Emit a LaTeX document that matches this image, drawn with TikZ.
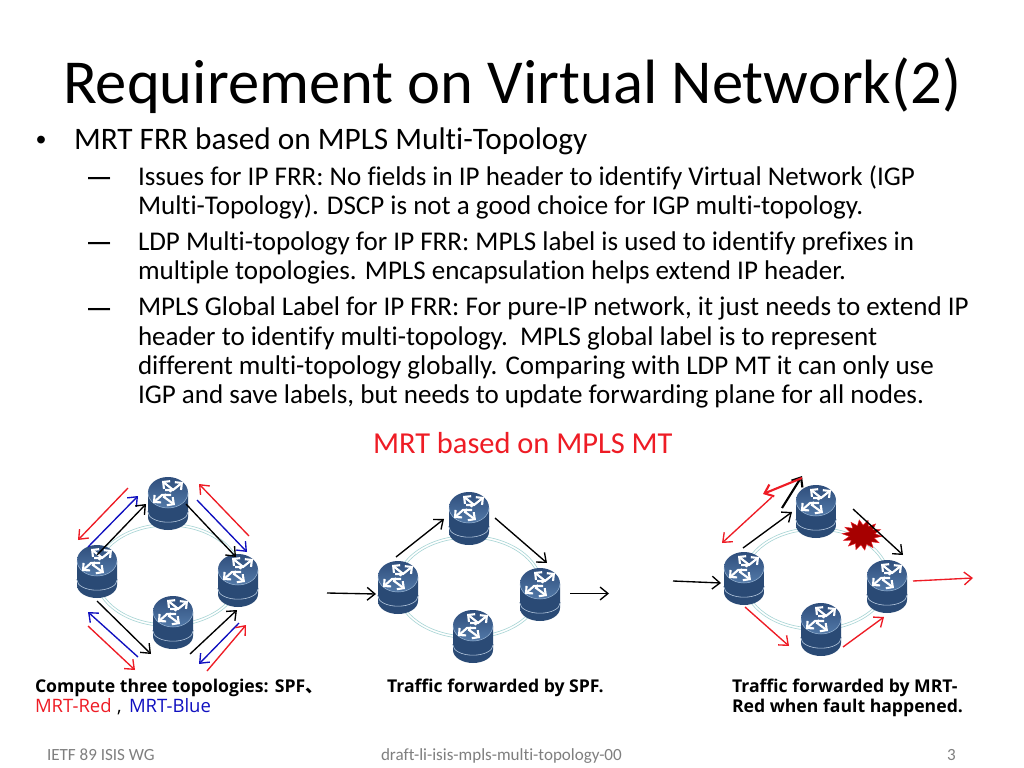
\documentclass[tikz,border=0pt]{standalone}
\usepackage{fontspec}
\setmainfont{Carlito}[Ligatures=NoCommon]
\newfontfamily\cjkf{Noto Sans CJK SC}
\newfontfamily\capf{Open Sans}
\newfontfamily\dashf{Liberation Sans}
\usetikzlibrary{arrows.meta,shapes.geometric}
\definecolor{ringc}{HTML}{A9D6D6}
\definecolor{redc}{HTML}{EE1C25}
\definecolor{bluec}{HTML}{1010C0}
\definecolor{grayc}{HTML}{7F7F7F}
\definecolor{rdark}{HTML}{2A4A75}
\definecolor{rmid}{HTML}{7299C4}
\definecolor{rtop}{HTML}{2F4E7C}
\definecolor{rtopl}{HTML}{5279A8}
\tikzset{
  x=0.703125pt,y=-0.703125pt,
  conn/.style={line width=0.95pt,-{Straight Barb[length=5.5pt,width=9pt]}},
  txt/.style={inner sep=0pt,outer sep=0pt,anchor=base west,align=left,text=black},
  ringline/.style={draw=ringc,line width=0.45pt},
  wa/.style={draw=white,line width=1.5pt,line cap=butt,line join=miter,-{Straight Barb[length=3.5pt,width=7pt]}},
  router/.pic={
    \path[left color=rdark,middle color=rmid,right color=rdark]
      (-20,-11) -- (-20,13) arc[start angle=180,end angle=0,x radius=20,y radius=13]
      -- (20,-11) -- cycle;
    \draw[rdark,line width=0.7pt] (-20,7) arc[start angle=180,end angle=0,x radius=20,y radius=10];
    \draw[rmid!50!white,line width=0.4pt] (-20,8.2) arc[start angle=180,end angle=0,x radius=20,y radius=10];
    \path[top color=rtop,bottom color=rtopl] (0,-11.5) ellipse[x radius=20,y radius=15.5];
    \draw[rmid!70!white,line width=0.35pt] (-20,-11.5) arc[start angle=180,end angle=0,x radius=20,y radius=15.5];
    \draw[wa] (2,-12) -- (4,-15) -- (-6,-23);
    \draw[wa] (-3,-14) -- (5,-14) -- (15,-22);
    \draw[wa] (3,-9) -- (-6,-9) -- (-15,-1);
    \draw[wa] (-2,-10) -- (-4,-7) -- (7,1);
  }
}
\begin{document}
\begin{tikzpicture}
\useasboundingbox (0,0) rectangle (1024,768);
\fill[white] (0,0) rectangle (1024,768);
% title and text
\node[txt,font=\fontsize{44}{44}\selectfont] (title) at (63,104) {Requirement on Virtual Network(2)};
\node[txt,font=\dashf\fontsize{20}{24}\selectfont] (b0) at (36,150) {•};
\node[txt,font=\fontsize{22}{24}\selectfont] (t0) at (74,150) {MRT FRR based on MPLS Multi-Topology};
\foreach \n/\yy in {d1/185,d2/250,d3/315}
  \node[txt,font=\dashf\fontsize{15.5}{20.4}\selectfont\bfseries] (\n) at (88,\yy) {—};
\foreach \n/\yy/\s in {
  l1/186/{Issues for IP FRR: No fields in IP header to identify Virtual Network (IGP},
  l2/215/{Multi-Topology). DSCP is not a good choice for IGP multi-topology.},
  l3/251/{LDP Multi-topology for IP FRR: MPLS label is used to identify prefixes in},
  l4/280/{multiple topologies. MPLS encapsulation helps extend IP header.},
  l5/316/{MPLS Global Label for IP FRR: For pure-IP network, it just needs to extend IP},
  l6/345/{header to identify multi-topology.\ \ MPLS global label is to represent},
  l7/374/{different multi-topology globally. Comparing with LDP MT it can only use},
  l8/403/{IGP and save labels, but needs to update forwarding plane for all nodes.}}
  \node[txt,font=\fontsize{19}{20.4}\selectfont] (\n) at (138,\yy) {\s};
\node[txt,font=\fontsize{21.4}{24}\selectfont,text=redc] (head) at (373,453) {MRT based on MPLS MT};
% rings
\foreach \cx/\cy in {168/575,469/587,816/579}{
  \draw[ringline] (\cx,\cy) ellipse[x radius=71,y radius=49];
  \draw[ringline] (\cx,\cy) ellipse[x radius=73.5,y radius=51.5];
}
% routers
\foreach \n/\xx/\yy in {a1/168/504,a2/97/572,a3/238/581,a4/173/623,
                        b1/469/519,b2/398/588,b3/540/595,b4/473/637,
                        c1/816/512,c2/744/579,c3/887/587,c4/821/630}{
  \coordinate (\n) at (\xx,\yy);
  \pic at (\n) {router};
}
% fault star
\node[star,star points=14,star point ratio=1.55,minimum size=21.5pt,inner sep=0pt,transform shape,xscale=1.3,rotate=8,fill=red!65!black,draw=redc,line width=0.3pt] (fault) at (862,535) {};
% connectors
\foreach \n/\c/\xa/\ya/\xb/\yb in {
  p1/redc/128/488/78/540, p2/bluec/88/547/138/496, p3/black/97/555/146/504,
  p4/redc/249/536/199/484, p5/bluec/197/500/247/552, p6/black/186/504/236/557,
  p7/black/97/601/151/654, p8/bluec/138/657/88/612, p9/redc/88/626/135/670,
  p10/black/190/654/237/610, p11/bluec/239/623/199/664, p12/redc/207/671/246/625,
  q1/black/327/593/376/594, q2/black/396/557/444/519, q3/black/495/518/547/563, q4/black/570/593.5/609/593.5,
  s1/black/673/581/721/583, s2/black/743/548/792/512, s3/black/853/509/903/555,
  s4/redc/913/581/973/578, s5/redc/745/607/789/646, s6/redc/843/647/884/617, s7/redc/772/497/722/543}{
  \coordinate (\n s) at (\xa,\ya);
  \coordinate (\n e) at (\xb,\yb);
  \draw[conn,draw=\c] (\n s) -- (\n e);
}
\coordinate (s8s) at (782,508); \coordinate (s8e) at (802,476);
\coordinate (s9s) at (802,478); \coordinate (s9e) at (763,494);
\draw[conn,draw=black,line width=1.5pt] (s8s) -- (s8e);
\draw[conn,draw=redc,line width=1.5pt] (s9s) -- (s9e);
% captions
\node[txt,font=\capf\fontsize{12.4}{14}\selectfont\bfseries] (cap1) at (35,692) {Compute three topologies: SPF{\cjkf 、}};
\node[txt,font=\capf\fontsize{13}{14}\selectfont,text=redc] (cap1b) at (35,712) {MRT-Red};
\node[txt,font=\capf\fontsize{13}{14}\selectfont] (cap1c) at (117,712) {,};
\node[txt,font=\capf\fontsize{13}{14}\selectfont,text=bluec] (cap1d) at (129,712) {MRT-Blue};
\node[txt,font=\capf\fontsize{12.4}{14}\selectfont\bfseries] (cap2) at (387,692) {Traffic forwarded by SPF.};
\node[txt,font=\capf\fontsize{12.4}{14}\selectfont\bfseries] (cap3) at (732,692) {Traffic forwarded by MRT-};
\node[txt,font=\capf\fontsize{12.4}{14}\selectfont\bfseries] (cap3b) at (732,712) {Red when fault happened.};
% footer
\node[txt,font=\fontsize{12}{14}\selectfont,text=grayc] (f1) at (47,760) {IETF 89 ISIS WG};
\node[txt,font=\fontsize{12}{14}\selectfont,text=grayc] (f2) at (381,760) {draft-li-isis-mpls-multi-topology-00};
\node[txt,font=\fontsize{12}{14}\selectfont,text=grayc] (f3) at (947,760) {3};
\end{tikzpicture}
\end{document}
